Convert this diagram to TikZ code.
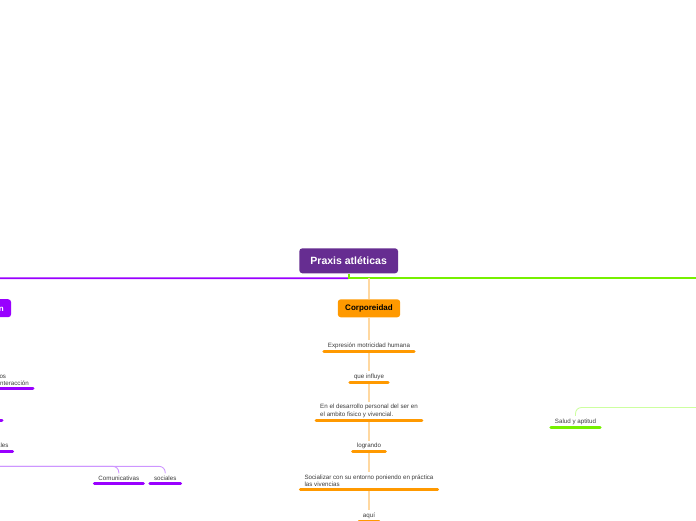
\documentclass[tikz,border=0pt]{standalone}
\usepackage{fontspec}
\setmainfont{Liberation Sans}
\begin{document}
\begin{tikzpicture}[x=1pt,y=-1pt,
    topic/.style={shape=rectangle,rounded corners=3pt,inner xsep=0pt,inner ysep=0pt,minimum height=18pt,font=\bfseries\fontsize{8}{9}\selectfont},
    sub/.style={anchor=south,align=left,inner xsep=4pt,inner ysep=2.5pt,text=subtext,font=\fontsize{6.2}{7.5}\selectfont},
    uline/.style={line width=3pt,line cap=round},
    link/.style={line width=0.9pt}]
    \definecolor{praxis_bg}{RGB}{102,45,145}
    \definecolor{comu_bg}{RGB}{153,0,255}
    \definecolor{corp_bg}{RGB}{255,153,0}
    \definecolor{corp_link}{RGB}{255,216,160}
    \definecolor{salud_bg}{RGB}{118,240,0}
    \definecolor{salud_link}{RGB}{205,255,160}
    \definecolor{comu_link}{RGB}{205,150,255}
    \definecolor{subtext}{RGB}{60,60,60}
    \useasboundingbox (0,0) rectangle (696,520);
    \clip (0,0) rectangle (696,520);
    % main topics
    \node[topic,fill=praxis_bg,text=white,minimum width=98.7pt,minimum height=25pt,font=\bfseries\fontsize{10.5}{12}\selectfont] (root) at (348.7,260.8) {Praxis atléticas};
    \node[topic,fill=corp_bg,minimum width=62.4pt] (corp) at (369,308.3) {Corporeidad};
    \node[topic,fill=comu_bg,text=white,anchor=east,inner xsep=7.3pt] (comu) at (11.3,308.2) {Comunicación};
    % Corporeidad branch
    \node[sub] (expr) at (369,351) {Expresión motricidad humana};
    \node[sub] (infl) at (369,382) {que influye};
    \node[sub] (desa) at (369,420.3) {En el desarrollo personal del ser en\\el ambito fisico y vivencial.};
    \node[sub] (logr) at (369,451.7) {logrando};
    \node[sub] (soci) at (369,489.3) {Socializar con su entorno poniendo en práctica\\las vivencias};
    \node[sub] (aqui) at (369,521) {aquí};
    % Comunicacion branch
    \node[sub,anchor=south east] (inter) at (33,388.3) {Lenguajes y gestos\\como formas de interacción};
    \node[sub,anchor=south east] (expc) at (2,420) {Expresión corporal};
    \node[sub,anchor=south east] (capa) at (12.7,451.7) {Capacidades relacionales};
    \node[sub] (comv) at (118.8,483.3) {Comunicativas};
    \node[sub] (socl) at (165.2,483.3) {sociales};
    % Salud branch
    \node[sub] (salud) at (575.5,427) {Salud y aptitud};
    \coordinate (bj) at ([yshift=-4.7pt]root.south);
    \coordinate (gend) at (720,278);
    \coordinate (sroot) at (720,407.5);
    % connectors
    \draw[comu_bg,line width=1.8pt,rounded corners=8pt] (bj) -| (comu.north);
    \draw[salud_bg,line width=1.8pt] (root.south) -- (bj) -- (bj -| gend);
    \draw[corp_link,line width=2pt] (corp.north |- bj) -- (corp.north);
    \draw[corp_link,line width=2pt] (corp) -- (expr);
    \draw[corp_link,line width=2pt] (expr) -- (infl);
    \draw[corp_link,line width=2pt] (infl) -- (desa);
    \draw[corp_link,line width=2pt] (desa) -- (logr);
    \draw[corp_link,line width=2pt] (logr) -- (soci);
    \draw[corp_link,line width=2pt] (soci) -- (aqui);
    \foreach \n in {inter,expc,capa}
        \draw[comu_link,link,rounded corners=6pt] (comu.south) |- (\n.south west);
    \draw[comu_link,link,rounded corners=6pt] (capa.south west) |- ([yshift=7pt]comv.north) -- (comv.north);
    \draw[comu_link,link,rounded corners=6pt] (capa.south west) |- ([yshift=7pt]socl.north) -- (socl.north);
    \draw[salud_link,link,rounded corners=6pt] (sroot) -| (salud.north);
    % underlines
    \foreach \n in {expr,infl,desa,logr,soci,aqui}
        \draw[uline,corp_bg] (\n.south west) -- (\n.south east);
    \foreach \n in {inter,expc,capa,comv,socl}
        \draw[uline,comu_bg] (\n.south west) -- (\n.south east);
    \draw[uline,salud_bg] (salud.south west) -- (salud.south east);
\end{tikzpicture}
\end{document}
